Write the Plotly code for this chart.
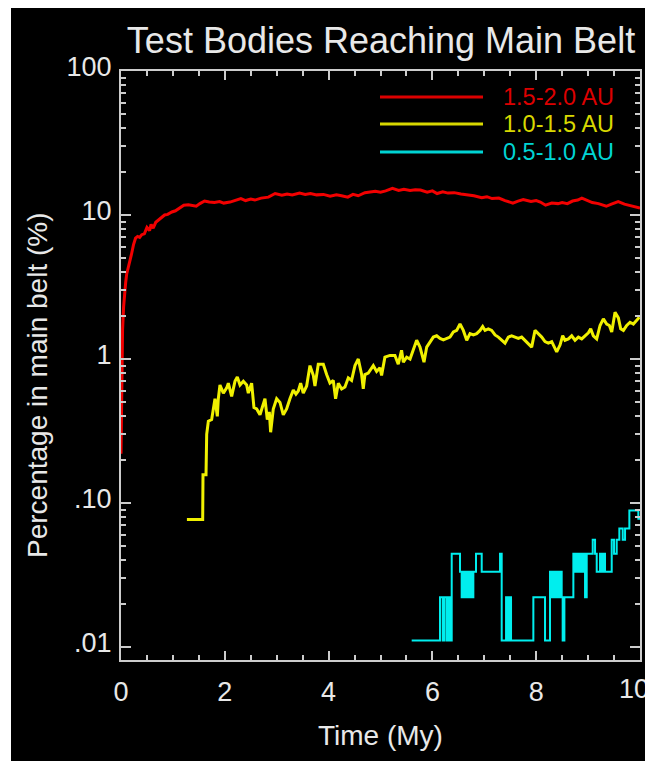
import plotly.graph_objects as go

# ---------------- data ----------------
red_t = [0, 0.01, 0.02, 0.03, 0.05, 0.07, 0.09, 0.11, 0.14, 0.17, 0.2, 0.24, 0.28, 0.32, 0.36, 0.4,
         0.45, 0.5, 0.55, 0.58, 0.62, 0.67, 0.72, 0.78, 0.84, 0.9, 0.98, 1.05, 1.12, 1.21, 1.3, 1.38,
         1.45, 1.52, 1.61, 1.7, 1.8, 1.9, 1.98, 2.1, 2.2, 2.31, 2.4, 2.5, 2.58, 2.7, 2.84, 2.97, 3.1,
         3.2, 3.3, 3.44, 3.55, 3.65, 3.77, 3.9, 4.03, 4.15, 4.25, 4.37, 4.47, 4.57, 4.7, 4.8, 4.9,
         5.0, 5.1, 5.23, 5.35, 5.45, 5.57, 5.67, 5.77, 5.9, 6.0, 6.09, 6.2, 6.3, 6.42, 6.55, 6.69,
         6.8, 6.95, 7.05, 7.15, 7.28, 7.4, 7.55, 7.65, 7.75, 7.9, 8.0, 8.08, 8.18, 8.3, 8.42, 8.5,
         8.6, 8.7, 8.8, 8.88, 8.98, 9.08, 9.2, 9.35, 9.45, 9.58, 9.7, 9.81, 9.9, 10.0]
red_v = [0.22, 0.6, 1.1, 1.6, 2.3, 2.9, 3.4, 3.9, 4.3, 4.7, 5.3, 6.2, 6.9, 7.1, 7.0, 7.3,
         7.4, 8.2, 7.8, 8.6, 8.1, 8.9, 9.2, 9.6, 10.0, 10.1, 10.5, 10.7, 11.2, 11.7, 11.8, 11.6,
         11.5, 12.0, 12.5, 12.3, 12.2, 12.4, 12.1, 12.3, 12.6, 13.0, 12.6, 12.9, 12.7, 13.1, 13.3,
         14.1, 13.7, 14.0, 13.8, 14.2, 13.9, 14.1, 13.8, 13.9, 13.5, 13.8, 13.6, 13.3, 13.9, 13.6,
         14.3, 14.4, 14.6, 14.4, 14.7, 15.3, 14.8, 15.1, 14.8, 15.0, 14.9, 14.4, 14.7, 14.1, 14.5,
         14.2, 14.3, 14.0, 13.8, 13.6, 13.2, 13.4, 13.0, 13.1, 12.6, 12.1, 12.5, 12.8, 12.4, 12.6,
         12.3, 11.7, 12.1, 12.0, 12.2, 12.0, 12.5, 12.7, 13.1, 12.6, 12.2, 12.0, 11.5, 11.9, 12.4,
         11.9, 11.6, 11.5, 11.2]

yel_t = [1.27, 1.46, 1.574, 1.58, 1.638, 1.651, 1.683, 1.747, 1.779, 1.811, 1.856, 1.875, 1.907,
         1.972, 2.036, 2.068, 2.132, 2.196, 2.241, 2.293, 2.357, 2.421, 2.453, 2.517, 2.562, 2.614,
         2.678, 2.729, 2.774, 2.819, 2.858, 2.883, 2.934, 2.999, 3.063, 3.127, 3.191, 3.255, 3.320,
         3.371, 3.416, 3.461, 3.512, 3.577, 3.641, 3.705, 3.737, 3.801, 3.898, 3.962, 4.026, 4.090,
         4.135, 4.187, 4.251, 4.315, 4.379, 4.443, 4.508, 4.572, 4.636, 4.668, 4.700, 4.764, 4.861,
         4.925, 4.989, 5.021, 5.085, 5.182, 5.278, 5.342, 5.406, 5.440, 5.504, 5.569, 5.633, 5.697,
         5.761, 5.838, 5.890, 5.954, 6.018, 6.083, 6.147, 6.211, 6.275, 6.339, 6.404, 6.468, 6.532,
         6.596, 6.661, 6.725, 6.789, 6.853, 6.918, 6.969, 7.014, 7.078, 7.142, 7.207, 7.271, 7.335,
         7.399, 7.463, 7.528, 7.592, 7.656, 7.720, 7.785, 7.849, 7.913, 7.977, 8.042, 8.106, 8.170,
         8.234, 8.299, 8.363, 8.395, 8.459, 8.510, 8.555, 8.620, 8.684, 8.748, 8.812, 8.877, 8.941,
         9.005, 9.050, 9.101, 9.166, 9.230, 9.294, 9.358, 9.410, 9.455, 9.519, 9.583, 9.628, 9.680,
         9.744, 9.808, 9.872, 9.949, 9.988]
yel_v = [0.077, 0.077, 0.077, 0.157, 0.157, 0.30, 0.37, 0.38, 0.45, 0.53, 0.40, 0.53, 0.66,
         0.58, 0.63, 0.68, 0.55, 0.70, 0.75, 0.66, 0.70, 0.66, 0.58, 0.68, 0.46, 0.45,
         0.41, 0.47, 0.53, 0.38, 0.43, 0.31, 0.45, 0.53, 0.50, 0.41, 0.45, 0.53, 0.61,
         0.57, 0.60, 0.68, 0.58, 0.65, 0.90, 0.77, 0.65, 0.92, 0.92, 0.78, 0.68, 0.71,
         0.53, 0.68, 0.62, 0.64, 0.74, 0.71, 0.90, 1.00, 0.78, 0.62, 0.78, 0.80, 0.90,
         0.82, 0.87, 0.77, 1.03, 1.06, 1.06, 0.92, 1.15, 0.95, 1.03, 1.00, 1.18, 1.35,
         1.21, 0.95, 1.21, 1.30, 1.42, 1.45, 1.39, 1.36, 1.39, 1.42, 1.54, 1.58, 1.75,
         1.58, 1.35, 1.50, 1.47, 1.50, 1.58, 1.68, 1.58, 1.62, 1.58, 1.47, 1.42, 1.35,
         1.29, 1.42, 1.45, 1.42, 1.39, 1.42, 1.35, 1.29, 1.21, 1.58, 1.50, 1.42, 1.32,
         1.29, 1.32, 1.18, 1.12, 1.25, 1.45, 1.35, 1.38, 1.45, 1.35, 1.42, 1.38, 1.45,
         1.52, 1.62, 1.45, 1.38, 1.71, 1.90, 1.75, 1.71, 1.54, 2.11, 1.93, 1.62, 1.58,
         1.71, 1.80, 1.75, 1.90, 1.95]

cy_t = [5.601, 6.147, 6.198, 6.230, 6.275, 6.307, 6.339, 6.372, 6.532, 6.564, 6.596, 6.628, 6.661,
        6.693, 6.725, 6.757, 6.789, 6.840, 6.950, 7.303, 7.335, 7.419, 7.451, 7.483, 7.515, 7.945,
        8.170, 8.266, 8.299, 8.331, 8.363, 8.395, 8.427, 8.459, 8.491, 8.510, 8.543, 8.716, 8.748,
        8.780, 8.812, 8.844, 8.877, 8.909, 8.941, 8.973, 9.089, 9.134, 9.166, 9.230, 9.262, 9.294,
        9.326, 9.455, 9.500, 9.551, 9.602, 9.667, 9.712, 9.795, 9.968, 10.0]
cy_v = [0.0111, 0.0222, 0.0111, 0.0222, 0.0111, 0.0222, 0.0111, 0.0444, 0.0333, 0.0222, 0.0333,
        0.0222, 0.0333, 0.0222, 0.0333, 0.0222, 0.0333, 0.0444, 0.0333, 0.0444, 0.0111, 0.0222,
        0.0111, 0.0222, 0.0111, 0.0222, 0.0111, 0.0333, 0.0222, 0.0333, 0.0222, 0.0333, 0.0222,
        0.0333, 0.0222, 0.0111, 0.0222, 0.0444, 0.0333, 0.0444, 0.0333, 0.0444, 0.0333, 0.0444,
        0.0222, 0.0444, 0.0555, 0.0444, 0.0333, 0.0444, 0.0333, 0.0444, 0.0333, 0.0555, 0.0444,
        0.0555, 0.0666, 0.0555, 0.0666, 0.0888, 0.0777, 0.0777]

series_names = ["1.5-2.0 AU", "1.0-1.5 AU", "0.5-1.0 AU"]
line_colors = ["#f20000", "#f0f000", "#00eeee"]
legend_colors = ["#dc0000", "#d8d800", "#00d4d4"]

y_tickvals = [0.01, 0.1, 1, 10, 100]
y_ticktext = [".01", ".10", "1", "10", "100"]
x_tickvals = [0, 2, 4, 6, 8, 10]
x_ticktext = ["0", "2", "4", "6", "8", ""]   # the "10" label is placed at the edge below
x_last_label = "10"

FONT = "Liberation Sans, Arial, Helvetica, sans-serif"
AX = "#cccccc"
TXT = "#e8e8e8"

# the page body adds an 8px white margin on the left and top
OFF = 8
W, H = 653 - OFF, 761 - OFF
PL, PR, PT, PB = 121, 640, 71, 660     # plot area in page pixels


def px2x(px):
    return (px - PL) / (PR - PL)


def py2y(py):
    return (PB - py) / (PB - PT)


fig = go.Figure()
fig.add_trace(go.Scatter(x=red_t, y=red_v, mode="lines", name=series_names[0],
                         line=dict(color=line_colors[0], width=3)))
fig.add_trace(go.Scatter(x=yel_t, y=yel_v, mode="lines", name=series_names[1],
                         line=dict(color=line_colors[1], width=3)))
fig.add_trace(go.Scatter(x=cy_t, y=cy_v, mode="lines", name=series_names[2],
                         line=dict(color=line_colors[2], width=2, shape="hv")))

minor_y = [m * 10 ** e for e in (-2, -1, 0, 1) for m in range(2, 10)]

fig.update_layout(
    width=W, height=H,
    margin=dict(l=PL - OFF, r=653 - PR, t=PT - OFF, b=H - (PB - OFF), autoexpand=False),
    paper_bgcolor="black", plot_bgcolor="black",
    showlegend=False,
    font=dict(family=FONT, color=TXT),
    title=dict(text="Test Bodies Reaching Main Belt", x=px2x(381), xref="paper",
               xanchor="center", y=1 - (40 - OFF) / H, yref="container", yanchor="middle",
               font=dict(size=36, color=TXT, family=FONT)),
    xaxis=dict(range=[0, 10], tickvals=x_tickvals, ticktext=x_ticktext, ticks="inside",
               ticklen=9, tickwidth=2,
               tickcolor=AX, showline=True, linecolor=AX, linewidth=2, mirror="allticks",
               showgrid=False, zeroline=False, tickfont=dict(size=27, color=TXT, family=FONT),
               ticklabelstandoff=7,
               minor=dict(dtick=0.5, tick0=0, ticks="inside", ticklen=5, tickwidth=2,
                          tickcolor=AX, showgrid=False)),
    yaxis=dict(type="log", range=[-2.09, 2.0], tickvals=y_tickvals, ticktext=y_ticktext,
               ticks="inside", ticklen=10, tickwidth=2, tickcolor=AX, showline=True,
               linecolor=AX, linewidth=2, mirror="allticks", showgrid=False, zeroline=False,
               tickfont=dict(size=27, color=TXT, family=FONT), ticklabelstandoff=2,
               ticklabelshift=-4,
               minor=dict(tickmode="array", tickvals=minor_y, ticks="inside", ticklen=5,
                          tickwidth=2, tickcolor=AX, showgrid=False)),
)

# last x tick label, kept fully inside the figure
fig.add_annotation(text=x_last_label, x=px2x(651), xref="paper", y=py2y(689), yref="paper",
                   xanchor="right", yanchor="middle", showarrow=False,
                   font=dict(size=27, color=TXT, family=FONT))

# axis titles
fig.add_annotation(text="Time (My)", x=px2x(380), xref="paper", y=py2y(735), yref="paper",
                   xanchor="center", yanchor="middle", showarrow=False,
                   font=dict(size=28, color=TXT, family=FONT))
fig.add_annotation(text="Percentage in main belt (%)", x=px2x(38), xref="paper",
                   y=py2y(385), yref="paper", textangle=-90, xanchor="center",
                   yanchor="middle", showarrow=False, font=dict(size=28, color=TXT, family=FONT))

# legend drawn as shapes + text
leg_y = [97, 124, 152]
for name, col, py in zip(series_names, legend_colors, leg_y):
    yp = py2y(py)
    fig.add_shape(type="line", xref="paper", yref="paper", x0=px2x(380), x1=px2x(483),
                  y0=yp, y1=yp, line=dict(color=col, width=3))
    fig.add_annotation(text=name, xref="paper", yref="paper", x=px2x(501), y=yp,
                       xanchor="left", yanchor="middle", showarrow=False,
                       font=dict(size=23.5, color=col, family=FONT))

# thin white strip on the left (reference border is 11px wide, page margin gives 8)
fig.add_shape(type="rect", xref="paper", yref="paper", x0=px2x(OFF - 1), x1=px2x(11),
              y0=-0.3, y1=1.3, line=dict(width=0), fillcolor="white", layer="above")

fig.write_html("out.html")
